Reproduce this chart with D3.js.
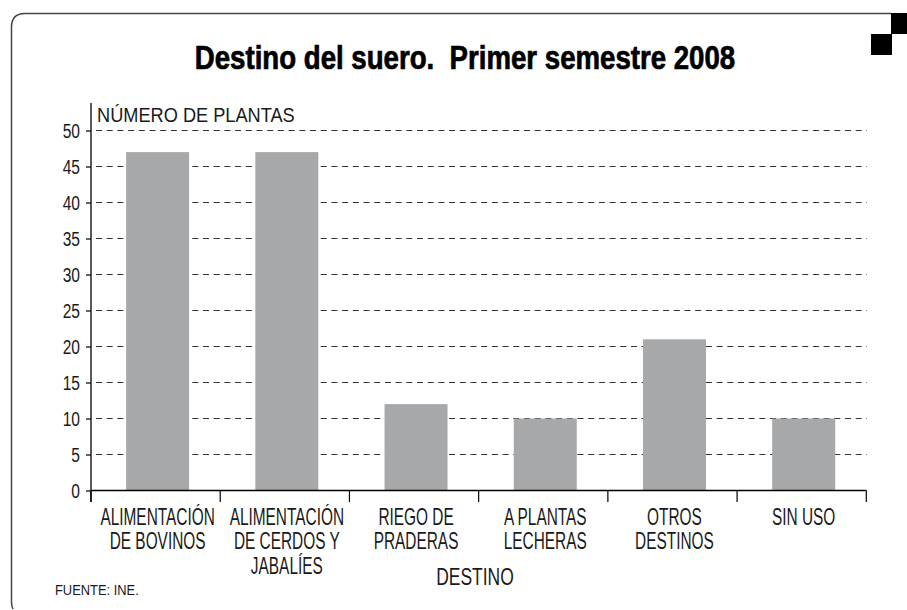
<!DOCTYPE html>
<html>
<head>
<meta charset="utf-8">
<script src="https://cdn.jsdelivr.net/npm/d3@7"></script>
<style>
  html, body { margin: 0; padding: 0; background: #fff; }
  svg { display: block; }
</style>
</head>
<body>
<svg id="chart" width="907" height="610"></svg>
<script>
const categories = [
  ["ALIMENTACIÓN", "DE BOVINOS"],
  ["ALIMENTACIÓN", "DE CERDOS Y", "JABALÍES"],
  ["RIEGO DE", "PRADERAS"],
  ["A PLANTAS", "LECHERAS"],
  ["OTROS", "DESTINOS"],
  ["SIN USO"]
];
const values = [47, 47, 12, 10, 21, 10];
const yTicks = [0, 5, 10, 15, 20, 25, 30, 35, 40, 45, 50];
const titleText = "Destino del suero.  Primer semestre 2008";
const yTitle = "NÚMERO DE PLANTAS";
const xTitle = "DESTINO";
const sourceText = "FUENTE: INE.";

const svg = d3.select("#chart");
const font = '"Liberation Sans", Arial, sans-serif';

function label(parent, txt, x, y, size, sx, anchor, weight) {
  return parent.append("text")
    .attr("transform", `translate(${x},${y}) scale(${sx},1)`)
    .attr("text-anchor", anchor || "start")
    .attr("font-family", font)
    .attr("font-size", size)
    .attr("font-weight", weight || "normal")
    .attr("fill", "#1a1a1a")
    .style("white-space", "pre")
    .text(txt);
}

// frame
svg.append("path")
  .attr("d", "M891,13.5 L25,13.5 Q11.5,13.5 11.5,27 L11.5,602 Q11.5,606 13,609")
  .attr("fill", "none").attr("stroke", "#444").attr("stroke-width", 1.5);
svg.append("rect").attr("x", 891).attr("y", 13).attr("width", 21).attr("height", 21).attr("fill", "#000");
svg.append("rect").attr("x", 871).attr("y", 34).attr("width", 21).attr("height", 21).attr("fill", "#000");

// title
label(svg, titleText, 465, 68.5, 32.5, 0.85, "middle", "bold")
  .attr("fill", "#000").attr("stroke", "#000").attr("stroke-width", 0.7);

const x = d3.scaleBand().domain(d3.range(categories.length)).range([91, 866.3]).padding(0);
const y = d3.scaleLinear().domain([0, 50]).range([490.5, 130.5]);

// grid
svg.append("g").selectAll("line").data(yTicks.filter(d => d > 0)).join("line")
  .attr("x1", 96).attr("x2", 867)
  .attr("y1", d => y(d)).attr("y2", d => y(d))
  .attr("stroke", "#333").attr("stroke-width", 1.2)
  .attr("stroke-dasharray", "6,4.7");

// bars
const bw = 63;
svg.append("g").selectAll("rect").data(values).join("rect")
  .attr("x", (d, i) => x(i) + (x.bandwidth() - bw) / 2 + 2)
  .attr("width", bw)
  .attr("y", d => y(d))
  .attr("height", d => y(0) - y(d))
  .attr("fill", "#a7a8aa");

// y axis
const ySx = 0.8;
const yAxis = d3.axisLeft(y).tickValues(yTicks).tickSize(5).tickPadding(6);
const gy = svg.append("g").attr("transform", "translate(91,0)").call(yAxis);
gy.select(".domain").remove();
gy.selectAll(".tick line").attr("stroke", "#000").attr("stroke-width", 1.2);
gy.selectAll(".tick text")
  .attr("x", -11 / ySx)
  .attr("transform", `scale(${ySx},1)`)
  .attr("font-family", font).attr("font-size", 19.5).attr("fill", "#1a1a1a").attr("dy", "0.35em");
svg.append("line").attr("x1", 91).attr("x2", 91).attr("y1", 103).attr("y2", 502)
  .attr("stroke", "#000").attr("stroke-width", 1.3);

// x axis
svg.append("line").attr("x1", 91).attr("x2", 866.3).attr("y1", y(0)).attr("y2", y(0))
  .attr("stroke", "#000").attr("stroke-width", 1.5);
const bounds = d3.range(categories.length + 1).map(i => i < categories.length ? x(i) : x(i - 1) + x.bandwidth());
svg.append("g").selectAll("line").data(bounds).join("line")
  .attr("x1", d => d).attr("x2", d => d)
  .attr("y1", y(0)).attr("y2", 502)
  .attr("stroke", "#000").attr("stroke-width", 1.2);

// category labels
const cg = svg.append("g");
categories.forEach((lines, i) => {
  lines.forEach((ln, j) => {
    label(cg, ln, x(i) + x.bandwidth() / 2 + 2, y(0) + 34 + j * 24.5, 23, 0.67, "middle");
  });
});

// axis titles
label(svg, yTitle, 97, 121.5, 20, 0.91, "start");
label(svg, xTitle, 475, 585, 23, 0.76, "middle");
label(svg, sourceText, 55, 595, 15, 0.86, "start");
</script>
</body>
</html>
